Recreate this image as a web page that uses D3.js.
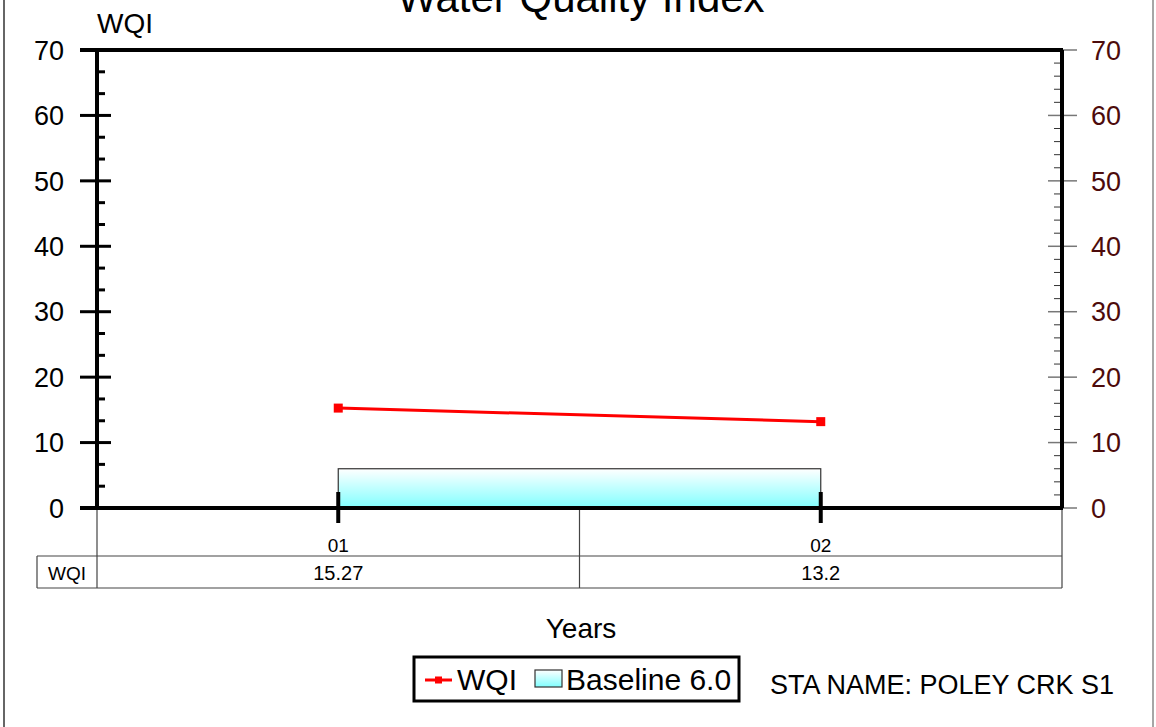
<!DOCTYPE html>
<html>
<head>
<meta charset="utf-8">
<script src="https://cdn.jsdelivr.net/npm/d3@7"></script>
<style>
  body { margin: 0; background: #fff; }
  svg { display: block; font-family: "Liberation Sans", Arial, sans-serif; }
</style>
</head>
<body>
<svg id="chart"></svg>
<script>
const width = 1156;
const height = 727;

// --- Data ---
const years = ["01", "02"];
const wqiValues = [15.27, 13.2];
const wqiLabels = ["15.27", "13.2"];
const baselineValue = 6.0;
const yTicks = [0, 10, 20, 30, 40, 50, 60, 70];

const svg = d3.select("#chart")
  .attr("width", width)
  .attr("height", height);

// gradient for baseline
const defs = svg.append("defs");
const grad = defs.append("linearGradient")
  .attr("id", "baseGrad")
  .attr("x1", 0).attr("y1", 0).attr("x2", 0).attr("y2", 1);
grad.append("stop").attr("offset", "0%").attr("stop-color", "#ffffff");
grad.append("stop").attr("offset", "100%").attr("stop-color", "#80ffff");

// outer frame (left/right edges visible)
svg.append("line").attr("x1", 4).attr("x2", 4).attr("y1", 0).attr("y2", height)
  .attr("stroke", "#666").attr("stroke-width", 2);
svg.append("line").attr("x1", 1153).attr("x2", 1153).attr("y1", 0).attr("y2", height)
  .attr("stroke", "#888").attr("stroke-width", 1.5);

// --- Scales ---
const plotLeft = 97, plotRight = 1062, plotTop = 50, plotBottom = 508;
const x = d3.scaleBand().domain(years).range([plotLeft, plotRight]);
const xc = d => x(d) + x.bandwidth() / 2;
const y = d3.scaleLinear().domain([0, 70]).range([plotBottom, plotTop]);

// --- Title & labels ---
svg.append("text")
  .attr("x", 581).attr("y", 12)
  .attr("text-anchor", "middle")
  .attr("font-size", 42)
  .text("Water Quality Index");

svg.append("text")
  .attr("x", 97).attr("y", 33)
  .attr("font-size", 28)
  .text("WQI");

// --- Baseline bar ---
svg.append("rect")
  .attr("x", xc(years[0]))
  .attr("y", y(baselineValue))
  .attr("width", xc(years[1]) - xc(years[0]))
  .attr("height", y(0) - y(baselineValue))
  .attr("fill", "url(#baseGrad)")
  .attr("stroke", "#333")
  .attr("stroke-width", 1.2);

// --- Right axis ticks (minor, inside) ---
const gRight = svg.append("g");
d3.range(0, 70.01, 2).forEach(v => {
  if (v % 10 !== 0) {
    gRight.append("line")
      .attr("x1", plotRight - 8).attr("x2", plotRight)
      .attr("y1", y(v)).attr("y2", y(v))
      .attr("stroke", "#333").attr("stroke-width", 1);
  }
});
yTicks.forEach(v => {
  gRight.append("line")
    .attr("x1", 1048).attr("x2", 1077)
    .attr("y1", y(v)).attr("y2", y(v))
    .attr("stroke", "#777").attr("stroke-width", 1.5);
  gRight.append("text")
    .attr("x", 1091).attr("y", y(v))
    .attr("dy", "0.36em")
    .attr("font-size", 27)
    .attr("fill", "#4d0b0b")
    .text(v);
});

// --- Left axis ---
const gLeft = svg.append("g");
d3.range(0, 70, 10 / 3).forEach((v, i) => {
  if (i % 3 !== 0) {
    gLeft.append("line")
      .attr("x1", plotLeft).attr("x2", plotLeft + 8)
      .attr("y1", y(v)).attr("y2", y(v))
      .attr("stroke", "#000").attr("stroke-width", 3);
  }
});
yTicks.forEach(v => {
  gLeft.append("line")
    .attr("x1", 80).attr("x2", 111)
    .attr("y1", y(v)).attr("y2", y(v))
    .attr("stroke", "#000").attr("stroke-width", 3);
  gLeft.append("text")
    .attr("x", 64).attr("y", y(v))
    .attr("dy", "0.36em")
    .attr("text-anchor", "end")
    .attr("font-size", 27)
    .text(v);
});

// --- Table grid ---
const tableTop = plotBottom, rowMid = 556, tableBottom = 588, tableLeft = 37;
const gTable = svg.append("g").attr("stroke", "#444").attr("stroke-width", 1.2);
gTable.append("line").attr("x1", plotLeft).attr("x2", plotLeft).attr("y1", tableTop).attr("y2", tableBottom);
gTable.append("line").attr("x1", x(years[1])).attr("x2", x(years[1])).attr("y1", tableTop).attr("y2", tableBottom);
gTable.append("line").attr("x1", plotRight).attr("x2", plotRight).attr("y1", tableTop).attr("y2", tableBottom);
gTable.append("line").attr("x1", tableLeft).attr("x2", plotRight).attr("y1", rowMid).attr("y2", rowMid);
gTable.append("line").attr("x1", tableLeft).attr("x2", plotRight).attr("y1", tableBottom).attr("y2", tableBottom);
gTable.append("line").attr("x1", tableLeft).attr("x2", tableLeft).attr("y1", rowMid).attr("y2", tableBottom);

svg.append("text")
  .attr("x", 67).attr("y", 580)
  .attr("text-anchor", "middle")
  .attr("font-size", 19)
  .text("WQI");

years.forEach((yr, i) => {
  svg.append("text")
    .attr("x", xc(yr)).attr("y", 552)
    .attr("text-anchor", "middle")
    .attr("font-size", 19)
    .text(yr);
  svg.append("text")
    .attr("x", xc(yr)).attr("y", 580)
    .attr("text-anchor", "middle")
    .attr("font-size", 20)
    .text(wqiLabels[i]);
});

// --- Plot frame ---
const gFrame = svg.append("g").attr("stroke", "#000").attr("stroke-width", 4);
gFrame.append("line").attr("x1", 80).attr("x2", plotRight + 1).attr("y1", plotTop).attr("y2", plotTop);
gFrame.append("line").attr("x1", 80).attr("x2", plotRight + 1).attr("y1", plotBottom).attr("y2", plotBottom);
gFrame.append("line").attr("x1", plotLeft).attr("x2", plotLeft).attr("y1", plotTop).attr("y2", plotBottom);
gFrame.append("line").attr("x1", plotRight).attr("x2", plotRight).attr("y1", plotTop).attr("y2", plotBottom);

// x ticks
years.forEach(yr => {
  svg.append("line")
    .attr("x1", xc(yr)).attr("x2", xc(yr))
    .attr("y1", 492).attr("y2", 523)
    .attr("stroke", "#000").attr("stroke-width", 4);
});

// --- WQI line ---
const line = d3.line()
  .x((d, i) => xc(years[i]))
  .y(d => y(d));
svg.append("path")
  .datum(wqiValues)
  .attr("fill", "none")
  .attr("stroke", "#ff0000")
  .attr("stroke-width", 3)
  .attr("d", line);
svg.selectAll(".marker")
  .data(wqiValues)
  .join("rect")
  .attr("class", "marker")
  .attr("x", (d, i) => xc(years[i]) - 4.5)
  .attr("y", d => y(d) - 4.5)
  .attr("width", 9)
  .attr("height", 9)
  .attr("fill", "#ff0000");

// --- Axis title ---
svg.append("text")
  .attr("x", 581).attr("y", 638)
  .attr("text-anchor", "middle")
  .attr("font-size", 28)
  .text("Years");

// --- Legend ---
svg.append("rect")
  .attr("x", 414).attr("y", 657)
  .attr("width", 325).attr("height", 44)
  .attr("fill", "#fff")
  .attr("stroke", "#000")
  .attr("stroke-width", 3);
svg.append("line")
  .attr("x1", 425).attr("x2", 452)
  .attr("y1", 680).attr("y2", 680)
  .attr("stroke", "#ff0000").attr("stroke-width", 3);
svg.append("rect")
  .attr("x", 435).attr("y", 676.5)
  .attr("width", 7).attr("height", 7)
  .attr("fill", "#ff0000");
svg.append("text")
  .attr("x", 457).attr("y", 690)
  .attr("font-size", 30)
  .text("WQI");
svg.append("rect")
  .attr("x", 535).attr("y", 670)
  .attr("width", 27).attr("height", 17)
  .attr("fill", "url(#baseGrad)")
  .attr("stroke", "#333")
  .attr("stroke-width", 1.2);
svg.append("text")
  .attr("x", 566).attr("y", 690)
  .attr("font-size", 30)
  .text("Baseline 6.0");

svg.append("text")
  .attr("x", 770).attr("y", 694)
  .attr("font-size", 27)
  .text("STA NAME: POLEY CRK S1");
</script>
</body>
</html>
